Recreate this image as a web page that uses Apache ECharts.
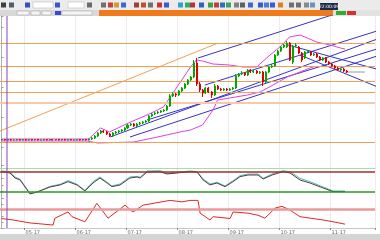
<!DOCTYPE html>
<html><head><meta charset="utf-8">
<script src="https://cdn.jsdelivr.net/npm/echarts@6/dist/echarts.min.js"></script>
<style>html,body{margin:0;padding:0;background:#fff;overflow:hidden}#c{width:380px;height:240px}</style>
</head><body><div id="c"></div>
<script>
const N = 125;
// candles: [open, close, low, high]
const candles = [
[7,7.5,6.5,8],[7.5,7,6.5,8],[7,7.5,6.5,8],[7.5,7,6.5,8],[7,7,6.5,7.5],[7,7.5,6.5,8],[7.5,7,6.5,8],[7,7.5,6.5,8],[7.5,7,6.5,8],[7,7.5,6.5,8],
[7.5,7,6.5,8],[7,7.5,6.5,8],[7.5,7,6.5,8],[7,7,6.5,7.5],[7,7.5,6.5,8],[7.5,7,6.5,8],[7,7.5,6.5,8],[7.5,7,6.5,8],[7,7.5,6.5,8],[7.5,7,6.5,8],
[7,7.5,6.5,8],[7.5,7,6.5,8],[7,7.5,6.5,8],[7.5,7,6.5,8],[7,7,6.5,7.5],[7,7.5,6.5,8],[7.5,7,6.5,8],[7,7.5,6.5,8],[7.5,7,6.5,8],[7,8,6.5,8.5],
[8,9,7,10],[9,11,8,12],[11,14,10,15],[14,16,13,17],[16,15,14,17],[15,13,12,16],[13,11,10,14],[11,14,10,15],[14,15,13,16],[15,16,14,17],
[16,17,15,18],[17,19,16,20],[19,22,18,23],[22,23,21,24],[23,21,20,24],[21,23,20,24],[23,24,22,25],[24,25,23,26],[25,26,24,27],[26,31,25,32],
[31,33,30,34],[33,34,32,35],[34,35,33,36],[35,36,34,37],[36,37,35,38],[37,41,36,42],[41,51,40,53],[51,53,50,55],[53,52,50,54],[52,56,51,57],
[56,59,55,60],[59,63,58,64],[63,67,62,68],[67,70,66,71],[70,84,69,87],[84,63,61,89],[63,57,55,65],[57,54,50,58],[54,59,53,60],[59,55,54,60],
[55,52,49,56],[52,61,51,63],[61,58,57,62],[58,57,56,59],[57,58,56,59],[58,57,56,59],[57,58,56,59],[58,59,57,60],[59,71,58,73],[71,73,70,74],
[73,74,72,76],[74,72,71,75],[72,77,71,78],[77,75,74,78],[75,76,74,77],[76,74,73,77],[74,75,73,76],[75,65,61,76],[65,75,64,76],[75,80,74,81],
[80,81,79,83],[81,92,80,93],[92,96,91,97],[96,100,95,101],[100,102,99,103],[100,104,99,106],[104,87,86,105],[85,101,83,102],[101,102,100,104],[100,94,93,101],
[94,87,85,95],[89,95,88,96],[95,96,94,97],[95,92,91,96],[92,93,91,94],[93,90,89,94],[90,87,86,91],[87,89,86,90],[89,85,84,90],[85,83,82,86],
[83,81,80,84],[81,79,78,82],[79,77,76,80],[77,78,76,79],[78,76,75,79],[76,75,74,77]
];
const bbUpper = [[0,8],[29,8],[29.5,9],[33,19],[36,15],[43,25],[48.5,32],[54,40],[58.5,60],[63,80],[65,87],[67,86],[70.5,83],[76,82],[80.5,80],[85,80],[89.5,92],[92.8,100],[96,110],[99.5,112],[102,109],[105,105],[109.5,102],[113,99],[114.5,98]];
const bbLower = [[0,6],[28.5,6],[32,4],[44,5],[50.5,9],[59.5,15],[63,17],[67,22],[70.5,37],[72,47],[76,49],[82,52],[86.2,55],[90.5,62],[95.2,70],[99.5,75],[102.8,79],[104,80]];
const levels = [104,81,66,55,5];
const softLevels = [44];
const orangeTrend = [[-0.5,16],[72.2,104]];
const blueLines = [
 [[65.5,89],[111.2,133]],
 [[67.8,62],[126.2,117]],
 [[36.2,10],[126.2,109]],
 [[48.5,27],[126.2,99]],
 [[42.8,10],[126.2,92]],
 [[95.5,102],[126.2,77]],
 [[99.5,92],[126.2,59]]
];
const grayLine = [[114.5,75],[121.2,75]];
const cursorBar = 1.83;
const oscMain = [[0,80],[2.8,76],[4.5,61],[6.2,55],[9.5,13],[11.8,19],[16.2,34],[19.5,40],[22.2,50],[25.2,40],[27.8,22],[30.5,46],[32.8,61],[35.2,46],[36.8,35],[39.5,40],[42.8,61],[45.2,64],[46.2,61],[48.5,79],[52.8,80],[55.2,73],[59.5,77],[62.8,80],[65.2,79],[67.2,55],[69.5,40],[71.8,46],[74.5,35],[77.2,50],[79.5,65],[82.2,70],[85.5,70],[87.2,58],[90.2,70],[93.8,80],[96.2,76],[99.5,55],[102.8,46],[107.2,31],[110.5,20],[114.5,20]];
const oscSignal = [[0,82],[2.8,80],[4.5,64],[6.2,57],[9.5,15],[11.8,18],[16.2,36],[19.5,42],[22.2,53],[25.2,42],[27.8,24],[30.5,50],[32.8,64],[35.2,48],[36.8,37],[39.5,43],[42.8,64],[45.2,66],[46.2,63],[48.5,82],[52.8,83],[55.2,75],[59.5,79],[62.8,82],[65.2,80],[67.2,58],[69.5,43],[71.8,48],[74.5,37],[77.2,53],[79.5,68],[82.2,73],[85.5,73],[87.2,60],[90.2,73],[93.8,83],[96.2,80],[99.5,60],[102.8,50],[107.2,34],[110.5,22],[114.5,22]];
const oscLevels = [80,20];
const oscTop = 91;
const rsiLine = [[0,32],[3.8,27],[9.5,17],[17.2,10],[17.8,33],[22.2,54],[23.5,38],[27.8,21],[31.8,83],[35.5,33],[41.2,77],[43.8,54],[47.2,77],[56.2,93],[60.2,88],[62.8,93],[65.5,93],[66.2,50],[69.5,27],[70.5,38],[76.2,32],[77.2,54],[82.2,50],[85.5,43],[87.8,33],[91.2,67],[93.5,73],[96.2,60],[99.5,38],[107.2,27],[110.5,21],[114.5,13]];
const rsiLevel = 63;
const tickCat = [8,25,42,59,76,93,110];
const tickLabels = ['05-17','06-17','07-17','08-17','09-17','10-17','11-17'];
const clockText = '22:00:09';

const cats = Array.from({length:N},(_, i)=>String(i));
const xMin = -0.5, xMax = N - 0.5;
const noSym = ['none','none'];
function ml(data, color, width){
  return {silent:true, symbol:noSym, label:{show:false}, emphasis:{disabled:true}, animation:false,
    lineStyle:{color, width, type:'solid'}, data};
}
function seg(pts, color, width, xi, yi, z){
  return {type:'line', xAxisIndex:xi, yAxisIndex:yi, data:pts, symbol:'none', silent:true,
    lineStyle:{color, width}, z:z||3, clip:true, animation:false};
}
const splitFn = (idx)=>tickCat.includes(idx);
function catAxis(g, withLabels){
  return {type:'category', gridIndex:g, data:cats, boundaryGap:true,
    axisLine:{show:withLabels, lineStyle:{color:'#c8c8c8'}},
    axisTick:{show:withLabels, interval:splitFn, length:2, lineStyle:{color:'#888'}},
    axisLabel:{show:withLabels, interval:splitFn, formatter:(v, i)=>tickLabels[tickCat.indexOf(Number(v))] || '',
      fontSize:5, color:'#666', align:'left', margin:2, fontFamily:'DejaVu Sans'},
    splitLine:{show:true, interval:splitFn, lineStyle:{color:'#ececec', width:1}}};
}
function valX(g){ return {type:'value', gridIndex:g, min:xMin, max:xMax, show:false}; }
const yRanges = [[-18,131],[0,100],[0,100]];
function valY(g){ return {type:'value', gridIndex:g, min:yRanges[g][0], max:yRanges[g][1], position:'right', scale:false,
  axisLine:{show:true, lineStyle:{color:'#b0b0b0'}}, axisTick:{show:true, length:2, lineStyle:{color:'#999'}},
  axisLabel:{show:false}, splitLine:{show:false}}; }

const series = [];
series.push({type:'candlestick', xAxisIndex:0, yAxisIndex:0, data:candles, barMaxWidth:2, animation:false, z:5,
  itemStyle:{color:'#00a800', color0:'#e00000', borderColor:'#00a800', borderColor0:'#e00000', borderWidth:1}});
const bbU = seg(bbUpper, '#e040e0', 1, 1, 0, 4);
bbU.markLine = ml(levels.map(v=>({yAxis:v})), '#f2a050', 1);
series.push(bbU);
const bbL = seg(bbLower, '#e040e0', 1, 1, 0, 4);
bbL.markLine = ml(softLevels.map(v=>({yAxis:v})), '#f8c8a8', 2);
series.push(bbL);
series.push(seg(orangeTrend, '#f2a050', 1, 1, 0, 3));
blueLines.forEach(p=>series.push(seg(p, '#3434c8', 1, 1, 0, 3)));
series.push(seg(grayLine, '#9a9a9a', 1, 1, 0, 3));
// vertical cursor line through all panes
[[1,0],[3,1],[5,2]].forEach(([xi,g])=>{
  series.push(seg([[cursorBar, yRanges[g][0]],[cursorBar, yRanges[g][1]]], '#8a40b0', 1, xi, g, 6));
});
const om = seg(oscMain, '#6a3434', 1, 3, 1, 4);
om.markLine = ml([{yAxis:oscLevels[0], lineStyle:{color:'#a03030', width:1.5}},{yAxis:oscLevels[1], lineStyle:{color:'#2a9a2a', width:1.5}},{yAxis:oscTop, lineStyle:{color:'#a8dca8', width:1}}], '#a03030', 1.5);
series.push(seg(oscSignal, '#38c8c8', 1, 3, 1, 3));
series.push(om);
const rs = seg(rsiLine, '#e02828', 1, 5, 2, 4);
rs.markLine = ml([{yAxis:rsiLevel}], '#e89a9a', 2.5);
series.push(rs);

// toolbar decorations
const icons = [[1,'#404040'],[9,'#505a70'],[25,'#3050c0'],[55,'#3a58c8'],[87,'#6a6a6a'],[101,'#707070'],[108,'#c84030'],[114,'#c8a030'],[121,'#3a6ad0'],[134,'#a04030'],[141,'#c05030'],[148,'#707070'],[157,'#d03030'],[164,'#3a5ad0'],[178,'#30a0d0'],[185,'#30b060'],[190,'#c03030'],[199,'#3060c0'],[208,'#40a040'],[214,'#c04040'],[220,'#3070c0'],[226,'#40a060'],[234,'#808080'],[240,'#606060'],[248,'#3a6ad0'],[258,'#3a5ad0'],[264,'#4a7ae0'],[270,'#3a5ad0'],[278,'#e08020'],[289,'#707070'],[296,'#707070'],[304,'#8a8a8a'],[310,'#7090c0']];
const graphic = [
  {type:'rect', shape:{x:0,y:0,width:380,height:10}, style:{fill:'#ebebeb'}, silent:true},
  {type:'rect', shape:{x:0,y:10,width:99,height:6}, style:{fill:'#d8d8d8'}, silent:true},
  {type:'rect', shape:{x:99,y:10,width:234,height:6}, style:{fill:'#f07a1a'}, silent:true},
  {type:'rect', shape:{x:333,y:10,width:47,height:6}, style:{fill:'#e2e2e2'}, silent:true},
  {type:'rect', shape:{x:336,y:11,width:10,height:4}, style:{fill:'#2fae2f'}, silent:true},
  {type:'rect', shape:{x:347,y:11,width:9,height:4}, style:{fill:'#d83030'}, silent:true},
  {type:'rect', shape:{x:33,y:2,width:20,height:6}, style:{fill:'#ffffff', stroke:'#b0b0b0', lineWidth:0.5}, silent:true},
  {type:'rect', shape:{x:68,y:2,width:16,height:6}, style:{fill:'#ffffff', stroke:'#b0b0b0', lineWidth:0.5}, silent:true},
  {type:'rect', shape:{x:17,y:11,width:12,height:4}, style:{fill:'#f4f4f4', stroke:'#a0a0a0', lineWidth:0.5}, silent:true},
  {type:'rect', shape:{x:31,y:11,width:9,height:4}, style:{fill:'#f4f4f4', stroke:'#a0a0a0', lineWidth:0.5}, silent:true},
  {type:'rect', shape:{x:42,y:11,width:9,height:4}, style:{fill:'#f4f4f4', stroke:'#a0a0a0', lineWidth:0.5}, silent:true},
  {type:'rect', shape:{x:55,y:11,width:6,height:4}, style:{fill:'#3a4ad0'}, silent:true},
  {type:'rect', shape:{x:62,y:11,width:30,height:4}, style:{fill:'#f4f4f4', stroke:'#a0a0a0', lineWidth:0.5}, silent:true},
  {type:'rect', shape:{x:320,y:3,width:18,height:7}, style:{fill:'#1c2a4a'}, silent:true},
  {type:'text', x:329, y:6.5, style:{text:clockText, fill:'#ffffff', fontSize:4.5, fontFamily:'DejaVu Sans', align:'center', verticalAlign:'middle'}, silent:true},
  {type:'rect', shape:{x:0,y:234,width:380,height:6}, style:{fill:'#d4d4d4'}, silent:true}
].concat(icons.map(([x,c])=>({type:'rect', shape:{x:x,y:2.5,width:5,height:5}, style:{fill:c}, silent:true})));

const chart = echarts.init(document.getElementById('c'), null, {renderer:'canvas'});
chart.setOption({
  animation:false,
  backgroundColor:'#ffffff',
  grid:[
    {left:0, right:5, top:16, height:149},
    {left:0, right:5, top:165, height:33.3},
    {left:0, right:5, top:198.3, height:29.7}
  ],
  xAxis:[catAxis(0,false), valX(0), catAxis(1,false), valX(1), catAxis(2,true), valX(2)],
  yAxis:[valY(0), valY(1), valY(2)],
  series:series,
  graphic:graphic
});
</script></body></html>
